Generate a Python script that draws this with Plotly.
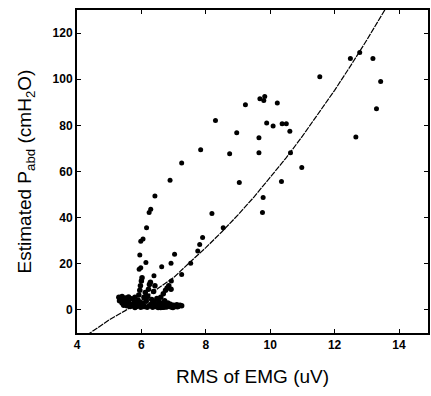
import plotly.graph_objects as go

# Scatter data: sparse points
pts_x = [12.49, 12.78, 13.19, 13.43, 13.30, 12.66, 11.54, 10.98, 10.63, 10.61,
         10.37, 10.50, 10.09, 10.22, 9.89, 10.35, 9.68, 9.83, 9.80, 9.65,
         9.65, 9.78, 9.76, 9.23, 8.96, 8.74, 9.04, 8.30, 7.84, 8.19,
         8.54, 7.25, 6.89, 6.42, 6.29, 6.24, 6.16, 6.05, 5.98, 5.95,
         5.98, 5.93, 6.14, 6.39, 7.03, 6.92, 6.63, 7.25, 7.53, 7.75,
         7.81, 7.90, 6.93]
pts_y = [109.0, 111.6, 109.0, 99.0, 87.2, 75.0, 101.1, 61.7, 68.1, 77.4,
         80.7, 80.7, 79.7, 89.7, 81.0, 55.7, 91.5, 92.5, 90.8, 74.6,
         68.1, 48.7, 42.2, 88.9, 76.8, 67.7, 55.2, 82.1, 69.4, 41.8,
         35.6, 63.7, 56.2, 49.4, 43.6, 42.2, 35.6, 30.7, 29.8, 23.8,
         18.3, 17.6, 20.6, 14.8, 24.1, 20.2, 18.7, 15.4, 20.2, 25.5,
         28.4, 31.4, 12.5]

# Dense cluster near rest
cl_x = [5.30, 5.35, 5.40, 5.45, 5.50, 5.55, 5.60, 5.60, 5.65, 5.70, 5.72, 5.78, 5.80, 5.85,
        5.88, 5.90, 5.92, 5.95, 5.97, 6.00, 6.02, 5.98, 6.05, 6.08, 6.10, 6.12, 6.15, 6.18,
        6.20, 6.22, 6.25, 6.28, 6.30, 6.32, 6.35, 6.38, 6.40, 6.42, 6.45, 6.48, 6.50, 6.52,
        6.55, 6.58, 6.60, 6.62, 6.65, 6.68, 6.70, 6.72, 6.75, 6.78, 6.80, 6.82, 6.85, 6.88,
        6.90, 6.92, 6.95, 7.00, 7.05, 7.10, 7.15, 7.20, 7.25, 5.50, 5.65, 5.80, 6.00, 6.25,
        6.50, 6.75, 5.40, 5.55, 5.95, 6.15, 6.40, 6.60, 6.85, 5.32, 5.45, 5.75, 6.05, 6.35,
        6.70, 6.98, 7.12]
cl_y = [5.5, 4.5, 5.8, 3.8, 5.2, 4.2, 3.2, 5.6, 2.5, 4.8, 1.8, 3.5, 5.5, 1.5,
        2.8, 4.2, 6.5, 8.5, 10.5, 12.5, 14.0, 1.2, 3.0, 5.5, 1.5, 7.5, 3.8, 1.2,
        6.0, 9.0, 11.0, 12.0, 2.5, 4.5, 1.2, 8.0, 3.5, 10.5, 1.5, 5.0, 2.2, 1.0,
        3.5, 1.5, 5.5, 2.8, 1.2, 7.0, 2.0, 4.0, 8.5, 1.3, 9.5, 3.0, 10.5, 1.5,
        2.5, 9.0, 1.2, 2.0, 1.5, 2.2, 1.6, 2.0, 1.8, 2.5, 1.5, 1.0, 2.0, 1.8,
        1.5, 2.5, 3.0, 1.8, 3.2, 4.8, 1.8, 1.0, 2.0, 4.0, 2.0, 2.2, 1.5, 2.8,
        1.2, 1.0, 1.4]

# Fitted curve
fit_x = [4.3, 5.0, 5.5, 6.0, 6.5, 7.0, 7.5, 8.0, 8.5, 9.0, 9.5, 10.0, 10.5, 11.0,
         11.5, 12.0, 12.5, 13.0, 13.6]
fit_y = [-11.0, -4.3, -0.3, 4.2, 9.2, 14.0, 20.6, 27.0, 33.9, 41.2, 49.0, 57.3, 66.0, 75.3,
         85.0, 95.2, 105.9, 117.0, 131.0]

x_ticks = [4, 6, 8, 10, 12, 14]
y_ticks = [0, 20, 40, 60, 80, 100, 120]

fig = go.Figure()
fig.add_trace(go.Scatter(x=fit_x, y=fit_y, mode="lines",
                         line=dict(color="black", width=1.2, dash="6px,1px"),
                         showlegend=False, hoverinfo="skip"))
fig.add_trace(go.Scatter(x=cl_x, y=cl_y, mode="markers",
                         marker=dict(color="black", size=5.5, symbol="circle"),
                         showlegend=False))
fig.add_trace(go.Scatter(x=pts_x, y=pts_y, mode="markers",
                         marker=dict(color="black", size=5, symbol="circle"),
                         showlegend=False))

axis_common = dict(showgrid=False, zeroline=False, showline=True, linecolor="black",
                   linewidth=2, mirror="ticks", ticks="inside", ticklen=4,
                   tickcolor="black", tickwidth=1.2,
                   tickfont=dict(family="Liberation Sans, Arial", size=12, color="black",
                                 weight="bold"))

fig.update_xaxes(range=[4, 14.9], tickvals=x_ticks,
                 title=dict(text="RMS of EMG (uV)",
                            font=dict(family="Liberation Sans, Arial", size=19, color="black"),
                            standoff=18),
                 **axis_common)
fig.update_yaxes(range=[-10, 130], tickvals=y_ticks,
                 title=dict(text="Estimated P<sub>abd</sub> (cmH<sub>2</sub>O)",
                            font=dict(family="Liberation Sans, Arial", size=19, color="black"),
                            standoff=16),
                 **axis_common)

fig.update_layout(width=431, height=396, margin=dict(l=77, r=1, t=10, b=63),
                  paper_bgcolor="white", plot_bgcolor="white")

fig.write_html("out.html")
